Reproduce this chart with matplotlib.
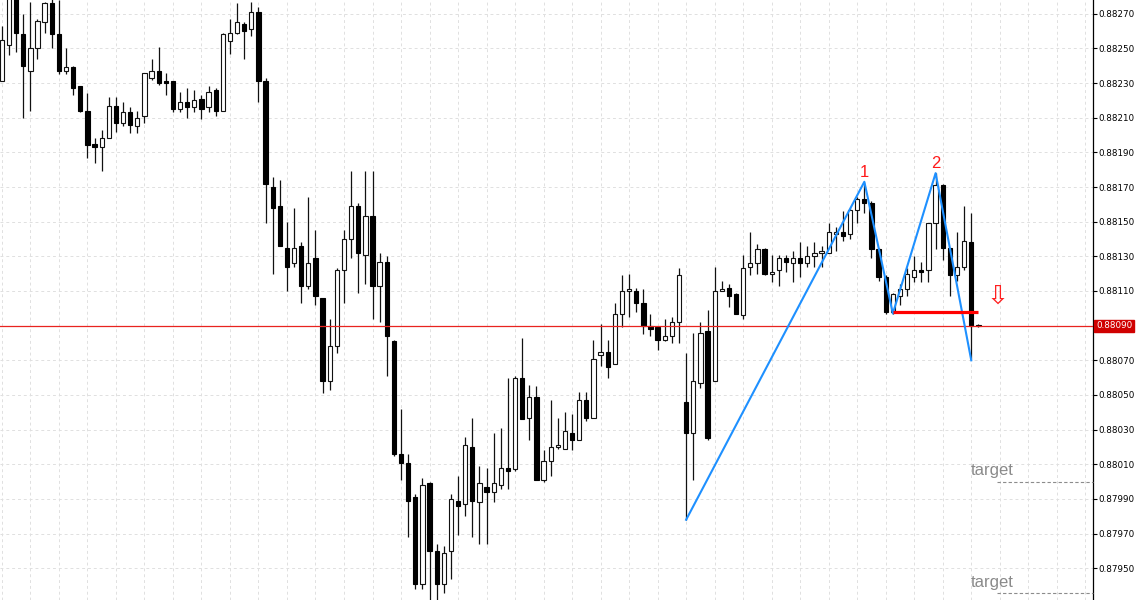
import matplotlib
matplotlib.use("Agg")
import matplotlib.pyplot as plt
import matplotlib.transforms as mtransforms
import numpy as np

# ---- data (prices) ----
opens = [0.88231,0.88252,0.88280,0.88258,0.88237,0.88250,0.88265,0.88276,0.88258,0.88237,
         0.88239,0.88228,0.88214,0.88195,0.88193,0.88198,0.88217,0.88207,0.88213,0.88205,
         0.88211,0.88233,0.88237,0.88231,0.88231,0.88215,0.88219,0.88216,0.88221,0.88216,
         0.88226,0.88214,0.88254,0.88259,0.88264,0.88261,0.88271,0.88231,0.88170,0.88159,
         0.88135,0.88126,0.88136,0.88113,0.88129,0.88106,0.88058,0.88078,0.88122,0.88140,
         0.88159,0.88131,0.88153,0.88113,0.88127,0.88081,0.88016,0.88011,0.87991,0.87941,
         0.87999,0.87960,0.87941,0.87960,0.87989,0.87987,0.88020,0.87988,0.87997,0.87994,
         0.87998,0.88008,0.88007,0.88060,0.88037,0.88049,0.88001,0.88012,0.88020,0.88019,
         0.88028,0.88024,0.88047,0.88037,0.88073,0.88075,0.88068,0.88097,0.88110,0.88110,
         0.88103,0.88090,0.88089,0.88082,0.88084,0.88092,0.88046,0.88028,0.88057,0.88087,
         0.88058,0.88110,0.88112,0.88108,0.88096,0.88124,0.88126,0.88134,0.88120,0.88122,
         0.88129,0.88126,0.88129,0.88126,0.88130,0.88132,0.88132,0.88143,0.88144,0.88143,
         0.88157,0.88163,0.88161,0.88134,0.88118,0.88098,0.88107,0.88111,0.88118,0.88122,
         0.88122,0.88149,0.88171,0.88135,0.88119,0.88124,0.88138,0.88090]
highs = [0.88263,0.88285,0.88283,0.88270,0.88277,0.88267,0.88277,0.88279,0.88278,0.88250,
         0.88240,0.88228,0.88224,0.88198,0.88203,0.88222,0.88222,0.88219,0.88216,0.88214,
         0.88236,0.88244,0.88251,0.88236,0.88231,0.88225,0.88227,0.88226,0.88223,0.88228,
         0.88227,0.88259,0.88267,0.88276,0.88265,0.88277,0.88274,0.88233,0.88176,0.88174,
         0.88150,0.88158,0.88138,0.88164,0.88145,0.88106,0.88094,0.88123,0.88145,0.88179,
         0.88161,0.88179,0.88179,0.88132,0.88130,0.88082,0.88042,0.88016,0.87993,0.88002,
         0.88000,0.87964,0.87963,0.87993,0.88003,0.88026,0.88037,0.88009,0.88008,0.88028,
         0.88031,0.88060,0.88061,0.88083,0.88056,0.88055,0.88018,0.88047,0.88037,0.88040,
         0.88039,0.88052,0.88052,0.88082,0.88091,0.88082,0.88103,0.88119,0.88120,0.88112,
         0.88111,0.88097,0.88090,0.88094,0.88095,0.88123,0.88074,0.88086,0.88092,0.88099,
         0.88124,0.88116,0.88114,0.88109,0.88131,0.88144,0.88137,0.88135,0.88131,0.88131,
         0.88131,0.88133,0.88138,0.88136,0.88138,0.88136,0.88149,0.88147,0.88156,0.88158,
         0.88164,0.88173,0.88162,0.88135,0.88119,0.88109,0.88114,0.88123,0.88130,0.88127,
         0.88149,0.88178,0.88172,0.88135,0.88144,0.88159,0.88155,0.88091]
lows = [0.88231,0.88246,0.88248,0.88210,0.88214,0.88244,0.88259,0.88250,0.88235,0.88235,
        0.88223,0.88213,0.88187,0.88184,0.88179,0.88198,0.88202,0.88205,0.88201,0.88201,
        0.88207,0.88232,0.88229,0.88223,0.88213,0.88213,0.88210,0.88213,0.88209,0.88213,
        0.88211,0.88214,0.88247,0.88258,0.88244,0.88257,0.88219,0.88149,0.88120,0.88136,
        0.88110,0.88124,0.88103,0.88111,0.88102,0.88051,0.88053,0.88074,0.88103,0.88129,
        0.88109,0.88114,0.88094,0.88092,0.88061,0.88015,0.88001,0.87968,0.87938,0.87938,
        0.87930,0.87930,0.87936,0.87944,0.87969,0.87980,0.87968,0.87964,0.87964,0.87988,
        0.87996,0.87996,0.88006,0.88036,0.88024,0.88001,0.88000,0.88003,0.88019,0.88019,
        0.88018,0.88024,0.88035,0.88037,0.88067,0.88060,0.88068,0.88089,0.88095,0.88098,
        0.88085,0.88084,0.88076,0.88081,0.88080,0.88080,0.87978,0.88001,0.88054,0.88024,
        0.88058,0.88110,0.88101,0.88097,0.88094,0.88119,0.88120,0.88119,0.88115,0.88113,
        0.88121,0.88115,0.88118,0.88124,0.88124,0.88124,0.88132,0.88133,0.88139,0.88140,
        0.88149,0.88155,0.88129,0.88116,0.88097,0.88097,0.88102,0.88107,0.88115,0.88115,
        0.88115,0.88134,0.88128,0.88107,0.88116,0.88122,0.88071,0.88089]
closes = [0.88255,0.88283,0.88259,0.88240,0.88250,0.88266,0.88276,0.88258,0.88237,0.88239,
          0.88227,0.88214,0.88194,0.88193,0.88198,0.88217,0.88207,0.88213,0.88206,0.88210,
          0.88236,0.88237,0.88230,0.88230,0.88215,0.88219,0.88216,0.88220,0.88215,0.88225,
          0.88214,0.88258,0.88259,0.88265,0.88260,0.88271,0.88231,0.88172,0.88158,0.88136,
          0.88124,0.88135,0.88113,0.88126,0.88107,0.88058,0.88078,0.88122,0.88140,0.88159,
          0.88132,0.88153,0.88113,0.88127,0.88084,0.88016,0.88011,0.87989,0.87941,0.87998,
          0.87960,0.87941,0.87959,0.87990,0.87986,0.88021,0.87989,0.87999,0.87994,0.87999,
          0.88008,0.88006,0.88060,0.88036,0.88049,0.88001,0.88012,0.88020,0.88021,0.88029,
          0.88024,0.88047,0.88037,0.88071,0.88075,0.88066,0.88097,0.88110,0.88111,0.88103,
          0.88090,0.88088,0.88082,0.88084,0.88092,0.88119,0.88028,0.88058,0.88086,0.88025,
          0.88110,0.88111,0.88107,0.88097,0.88123,0.88126,0.88134,0.88120,0.88121,0.88129,
          0.88127,0.88129,0.88126,0.88130,0.88132,0.88133,0.88144,0.88144,0.88142,0.88157,
          0.88163,0.88161,0.88134,0.88118,0.88098,0.88108,0.88111,0.88120,0.88122,0.88121,
          0.88149,0.88171,0.88135,0.88119,0.88124,0.88139,0.88090,0.88090]

zigzag_bars = [96, 121, 125, 131, 136]
zigzag_prices = [0.87978, 0.88173, 0.88097, 0.88178, 0.88070]
peak_labels = ["1", "2"]
peak_label_bars = [121, 131]
peak_label_prices = [0.88176, 0.88181]
neck_bars = [125, 137]
neck_price = 0.880976
current_price = 0.88090
current_label = "0.88090"
target_prices = [0.88000, 0.87936]
target_text_prices = [0.880038, 0.879394]
target_text = "target"
arrow_bar = 139.75
arrow_price = 0.881065
tick_values = [0.87950, 0.87970, 0.87990, 0.88010, 0.88030, 0.88050, 0.88070, 0.88090,
               0.88110, 0.88130, 0.88150, 0.88170, 0.88190, 0.88210, 0.88230, 0.88250, 0.88270]
tick_labels = ["0.87950", "0.87970", "0.87990", "0.88010", "0.88030", "0.88050", "0.88070",
               "0.88090", "0.88110", "0.88130", "0.88150", "0.88170", "0.88190", "0.88210",
               "0.88230", "0.88250", "0.88270"]

# ---- figure ----
W, H = 1140, 600
fig = plt.figure(figsize=(W / 100, H / 100), dpi=100)
ax = fig.add_axes([0, 0, 1093 / W, 1])
ax.set_xlim(-0.26, 153.08)
ax.set_ylim(0.879317, 0.882779)

for s in ["top", "left", "bottom"]:
    ax.spines[s].set_visible(False)
ax.spines["right"].set_color("#000000")
ax.spines["right"].set_linewidth(0.9)

ax.set_xticks([])
ax.yaxis.tick_right()
ax.set_yticks(tick_values)
# the current-price tick is covered by the red price box
ax.set_yticklabels(["" if t == current_label else t for t in tick_labels])
ax.tick_params(axis="y", direction="out", length=3, width=0.8, pad=1,
               labelsize=6.3, colors="#000000")

# grid
for v in tick_values:
    ax.axhline(v, color="#e0e0e0", lw=0.7, ls=(0, (3, 3)), zorder=0)
for xv in range(0, 154, 4):
    ax.axvline(xv, color="#e0e0e0", lw=0.7, ls=(0, (3, 3)), zorder=0)

# candles
n = len(opens)
xs = np.arange(n)
o = np.array(opens); h = np.array(highs); l = np.array(lows); c = np.array(closes)
ax.vlines(xs, l, h, color="#111111", lw=0.9, zorder=2)
bull = c > o
bodies_bottom = np.minimum(o, c)
bodies_h = np.maximum(np.abs(c - o), 0.0000035)
ax.bar(xs[bull], bodies_h[bull], bottom=bodies_bottom[bull], width=0.6,
       color="white", edgecolor="#111111", linewidth=0.8, zorder=3)
ax.bar(xs[~bull], bodies_h[~bull], bottom=bodies_bottom[~bull], width=0.6,
       color="black", edgecolor="black", linewidth=0.8, zorder=3)

# current price line
ax.axhline(current_price, color="#e8231f", lw=0.9, zorder=4)

# zigzag
ax.plot(zigzag_bars, zigzag_prices, color="#1e90ff", lw=1.5, zorder=5)
for t, b, p in zip(peak_labels, peak_label_bars, peak_label_prices):
    ax.text(b, p, t, color="#ff1a1a", fontsize=12, family="Liberation Sans",
            ha="center", va="baseline", zorder=6)

# neckline
ax.plot(neck_bars, [neck_price, neck_price], color="#ff0000", lw=2.3,
        solid_capstyle="butt", zorder=6)

# arrow
ax.text(arrow_bar, arrow_price, "\u21e9", color="#ff2020", fontsize=19,
        family="DejaVu Sans", ha="center", va="center", zorder=6)

# targets
for tp, ttp in zip(target_prices, target_text_prices):
    ax.plot([139.6, 153.08], [tp, tp], color="#8c8c8c", lw=0.8,
            ls=(0, (3, 2)), zorder=4, clip_on=False)
    ax.text(135.9, ttp, target_text, color="#8a8a8a", fontsize=12,
            family="Liberation Sans", ha="left", va="baseline", zorder=6)

# current price label on axis
trans = mtransforms.blended_transform_factory(ax.transAxes, ax.transData)
ax.text(1.0027, current_price, current_label, transform=trans, color="white",
        fontsize=6.3, ha="left", va="center", zorder=10,
        bbox=dict(boxstyle="square,pad=0.18", facecolor="#d00000", edgecolor="#d00000"))

fig.savefig("out.png", dpi=100)
